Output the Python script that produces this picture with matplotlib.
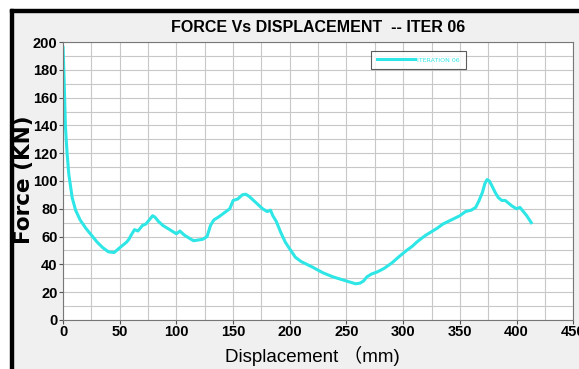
import matplotlib.pyplot as plt
from matplotlib.patches import Rectangle

disp = [0, 1, 2, 3.5, 5, 8, 11, 15, 20, 26, 30, 35, 40, 45, 50, 53, 56, 58, 60,
        63, 66, 70, 73, 76, 79, 81, 84, 88, 92, 96, 100, 103, 107, 111, 115, 119,
        123, 127, 130, 133, 137, 142, 147, 150, 154, 158, 161, 164, 168, 172, 176,
        180, 183, 185, 188, 192, 196, 200, 205, 210, 215, 220, 229, 238, 246, 252,
        258, 262, 265, 268, 272, 277, 283, 290, 297, 303, 308, 312, 315, 320, 325,
        330, 335, 340, 345, 350, 355, 360, 364, 367, 370, 372, 374, 376, 378, 381,
        384, 387, 390, 393, 396, 400, 403, 406, 409, 413]
force = [196, 170, 140, 120, 105, 88, 79, 72, 66, 60, 56, 52, 49, 48.5, 52, 54,
         56, 58, 61, 65, 64, 68, 69, 72, 75, 74, 71, 68, 66, 64, 62, 64, 61, 59, 57,
         57.5, 58, 60, 68, 72, 74, 77, 80, 86, 87, 90, 90.5, 89, 86, 83, 80, 78, 79,
         75, 71, 63, 56, 51, 45, 42, 40, 38, 34, 31, 29, 27.5, 26, 26.5, 28, 31, 33,
         34.5, 37, 41, 46, 50, 53, 56, 58, 61, 63.5, 66, 69, 71, 73, 75, 78, 79, 81,
         86, 92, 98, 101, 100, 97, 92, 88, 86, 86, 84, 82, 80, 81, 78, 75, 70]

fig = plt.figure(figsize=(5.79, 3.69), dpi=100)
fig.patch.set_facecolor('#f0f0f0')
# screenshot frame: white margin with a black border at top and left
fig.patches.append(Rectangle((0, 0.976), 1, 0.024, transform=fig.transFigure, color='white', zorder=0))
fig.patches.append(Rectangle((0, 0), 0.017, 1, transform=fig.transFigure, color='white', zorder=0))
fig.patches.append(Rectangle((0.017, 0.968), 0.983, 0.008, transform=fig.transFigure, color='black', zorder=1))
fig.patches.append(Rectangle((0.017, 0), 0.005, 0.976, transform=fig.transFigure, color='black', zorder=1))

ax = fig.add_axes([0.109, 0.133, 0.881, 0.753])
ax.plot(disp, force, color='#2ee6e6', lw=2.2, label='ITERATION 06')
ax.set_xlim(0, 450)
ax.set_ylim(0, 200)
ax.set_xticks(range(0, 451, 50))
ax.set_yticks(range(0, 201, 20))
ax.set_xticks(range(25, 451, 50), minor=True)
ax.set_yticks(range(10, 201, 20), minor=True)
ax.grid(which='both', color='#c8c8c8', lw=0.8)
ax.tick_params(which='minor', length=0)
ax.tick_params(which='major', length=3, pad=1, color='#555555')
for lab in ax.get_xticklabels() + ax.get_yticklabels():
    lab.set_family('Liberation Sans')
    lab.set_fontweight('bold')
    lab.set_fontsize(10.5)
for s in ax.spines.values():
    s.set_color('#777777')

ax.set_title('FORCE Vs DISPLACEMENT  -- ITER 06', family='Liberation Sans',
             fontweight='bold', fontsize=11.5, pad=7)
ax.set_xlabel('Displacement （mm)', family=['Liberation Sans', 'Noto Sans CJK SC'],
              fontsize=13.5)
ax.xaxis.set_label_coords(0.488, -0.092)
ax.set_ylabel('Force (KN)', family='DejaVu Sans', fontweight='bold', fontsize=15.5)
ax.yaxis.set_label_coords(-0.058, 0.505)

leg = ax.legend(loc='upper left', bbox_to_anchor=(0.604, 0.968), fontsize=4.5,
                frameon=True, fancybox=False, handlelength=6, handletextpad=0.3,
                borderpad=1.0, borderaxespad=0)
leg.get_frame().set_edgecolor('#333333')
leg.get_frame().set_linewidth(0.8)
for t in leg.get_texts():
    t.set_color('#2ee6e6')

fig.savefig('out.png', dpi=100, facecolor=fig.get_facecolor())
